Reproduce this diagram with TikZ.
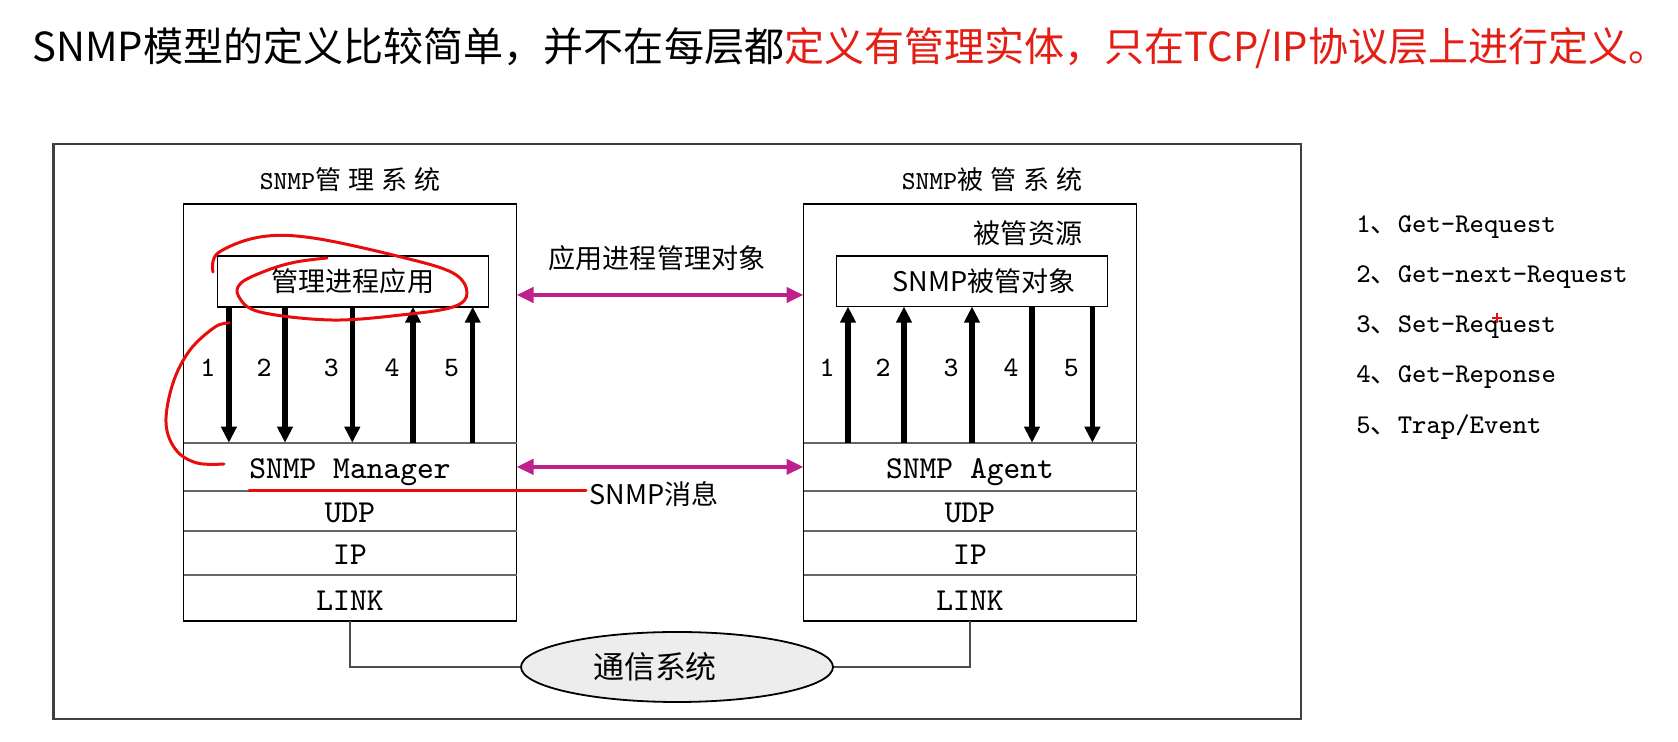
\documentclass[tikz,border=0pt]{standalone}
\usepackage{fontspec}
\setmainfont{Noto Sans CJK SC}
\newfontfamily\cjk{Noto Sans CJK SC}
\usetikzlibrary{arrows.meta,shapes.geometric}

\definecolor{titlered}{RGB}{228,30,20}
\definecolor{linkmag}{RGB}{190,32,140}
\definecolor{penred}{RGB}{232,12,12}

\newcommand{\gap}{\hspace{0.7mm}}

\tikzset{
  outerframe/.style={draw=black!75, line width=0.22mm},
  sysbox/.style={draw, line width=0.18mm, inner sep=0, outer sep=0, minimum width=33.3mm, minimum height=41.7mm},
  layer/.style={inner sep=0, outer sep=0, minimum width=33.3mm, text height=2.4mm, text depth=0mm,
    font=\ttfamily\fontsize{9.1}{10}\selectfont},
  layersep/.style={draw=black!60, line width=0.18mm},
  objbox/.style={draw, line width=0.18mm, inner sep=0, outer sep=0, minimum width=27.1mm, minimum height=5.07mm, font=\fontsize{7.7}{9}\selectfont},
  systitle/.style={font=\fontsize{7.4}{9}\selectfont},
  midtext/.style={font=\fontsize{7.7}{9}\selectfont},
  bigarrow/.style={line width=0.55mm, -{Triangle[length=1.6mm,width=1.5mm]}},
  magarrow/.style={draw=linkmag, line width=0.45mm, {Triangle[length=1.7mm,width=1.5mm]}-{Triangle[length=1.7mm,width=1.5mm]}},
  arrownum/.style={font=\ttfamily\fontsize{8}{9}\selectfont},
  legendtext/.style={anchor=west, font=\ttfamily\fontsize{7.7}{9}\selectfont},
  penmark/.style={draw=penred, line width=0.3mm, line cap=round, line join=round},
  wire/.style={draw=black!70, line width=0.12mm},
}

\begin{document}
\begin{tikzpicture}[x=0.1mm, y=-0.1mm]
  \useasboundingbox (0,0) rectangle (1678,742);

  % Heading line
  \node[anchor=west, font=\fontsize{11.4}{13}\selectfont] (heading) at (20,48)
    {SNMP模型的定义比较简单，并不在每层都\textcolor{titlered}{定义有管理实体，只在TCP/IP协议层上进行定义。}};

  % Frame round the figure
  \draw[outerframe] (53.5,144) rectangle (1301,719);

  % Manager side
  \node[systitle] (lhead) at (350,180) {{\ttfamily SNMP}管\gap 理\gap 系\gap 统};
  \node[sysbox] (lsys) at (350,412.5) {};
  \node[objbox] (app) at (352.9,281.4) {管理进程应用};
  \node[layer, minimum height=4.83mm] (mgr) at (350,466.9) {SNMP Manager};
  \node[layer, minimum height=4.0mm] (udpL) at (350,511) {UDP};
  \node[layer, minimum height=4.4mm] (ipL) at (350,553) {IP};
  \node[layer, minimum height=4.6mm, text height=2.6mm] (linkL) at (350,598) {LINK};
  \foreach \l in {mgr,udpL,ipL,linkL}
    \draw[layersep] (\l.north west) -- (\l.north east);

  % Agent side
  \node[systitle] (rhead) at (992,180) {{\ttfamily SNMP}被\gap 管\gap 系\gap 统};
  \node[sysbox] (rsys) at (970,412.5) {};
  \node[midtext] (res) at (1028,233) {被管资源};
  \node[objbox] (obj) at (972,281.2) {\hspace{2.4mm}SNMP被管对象};
  \node[layer, minimum height=4.83mm] (agent) at (970,466.9) {SNMP Agent};
  \node[layer, minimum height=4.0mm] (udpR) at (970,511) {UDP};
  \node[layer, minimum height=4.4mm] (ipR) at (970,553) {IP};
  \node[layer, minimum height=4.6mm, text height=2.6mm] (linkR) at (970,598) {LINK};
  \foreach \l in {agent,udpR,ipR,linkR}
    \draw[layersep] (\l.north west) -- (\l.north east);

  % Arrows 1-5 (manager: 1-3 down, 4-5 up; agent: 1-3 up, 4-5 down)
  \coordinate (numrow) at (0,368);
  \foreach \n/\x in {1/228.9, 2/285, 3/352.3, 4/413, 5/472.7}
    \coordinate (la\n) at (\x,0);
  \foreach \n/\x in {1/848, 2/904, 3/972, 4/1032, 5/1092.4}
    \coordinate (ra\n) at (\x,0);
  \foreach \n in {1,2,3} {
    \draw[bigarrow] (app.south -| la\n) -- (mgr.north -| la\n);
    \draw[bigarrow] (agent.north -| ra\n) -- (obj.south -| ra\n);
  }
  \foreach \n in {4,5} {
    \draw[bigarrow] (mgr.north -| la\n) -- (app.south -| la\n);
    \draw[bigarrow] (obj.south -| ra\n) -- (agent.north -| ra\n);
  }
  \foreach \n in {1,...,5} {
    \node[arrownum, xshift=-2.1mm] (lnum\n) at (la\n |- numrow) {\n};
    \node[arrownum, xshift=-2.1mm] (rnum\n) at (ra\n |- numrow) {\n};
  }

  % Links between the two sides
  \coordinate (toprow) at (0,295);
  \draw[magarrow] (lsys.east |- toprow) -- (rsys.west |- toprow);
  \node[midtext] (objlink) at (657,258) {应用进程管理对象};
  \draw[magarrow] (mgr.east) -- (agent.west);
  \node[midtext] (msglink) at (654,494) {SNMP消息};

  % Communication system
  \node[ellipse, draw, line width=0.18mm, fill=gray!14, minimum width=31.2mm, minimum height=7mm,
        inner sep=0, font=\fontsize{8.8}{10}\selectfont] (comm) at (677,667) {通信系统\rule{4.4mm}{0pt}};
  \draw[wire] (linkL.south) |- (comm.west);
  \draw[wire] (linkR.south) |- (comm.east);

  % Message types
  \foreach \n/\t in {1/Get-Request, 2/Get-next-Request, 3/Set-Request, 4/Get-Reponse, 5/{Trap/Event}}
    \node[legendtext] (leg\n) at (1344,177+50*\n) {\n{\cjk 、}\t};

  % Pen marks
  \draw[penmark] plot[smooth, tension=0.6] coordinates {(213,272) (218,253) (260,237) (313,238)
    (401,257) (453,273) (467,293) (453,307) (401,315) (331,320) (260,312) (239,297) (241,283)
    (268,270) (296,262) (327,258)};
  \draw[penmark] plot[smooth, tension=0.6] coordinates {(229,323) (215,327) (190,350) (173,383)
    (166,423) (176,450) (197,463) (224,464)};
  \draw[penmark] (249,491) -- (586,491);
  \draw[penred, line width=0.2mm] (1492,318) -- (1502,318) (1497,313) -- (1497,323);
\end{tikzpicture}
\end{document}
